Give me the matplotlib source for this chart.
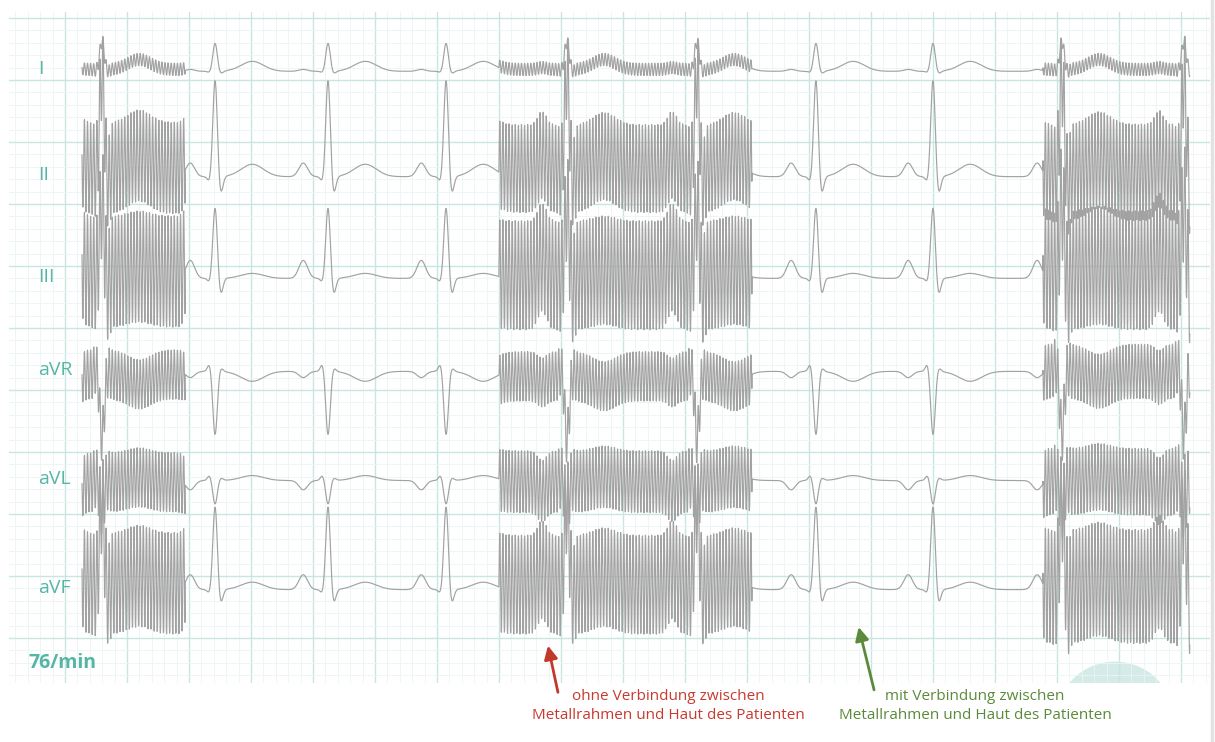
import numpy as np
import matplotlib.pyplot as plt
from matplotlib.patches import Circle
from matplotlib.lines import Line2D

plt.rcParams['font.family'] = ['Open Sans', 'DejaVu Sans']

# paper units: mm (1 small box = 1 mm)
leads = ['I', 'II', 'III', 'aVR', 'aVL', 'aVF']
lead_baseline = [45.7, 37.2, 29.0, 21.5, 12.7, 3.9]

r_times = [2.98, 12.10, 21.21, 30.73, 40.48, 50.97, 60.56, 70.0, 80.40, 90.24]
trace_span = [1.37, 90.73]

# P, Q, R, S, T
wave_offsets = [-2.0, -0.45, 0.0, 0.45, 3.0]
wave_widths = [0.35, 0.16, 0.18, 0.18, 0.9]
amp_I = [0.15, -0.1, 2.25, -0.2, 0.8]
amp_II = [1.1, -0.4, 7.8, -1.4, 1.0]
amp_III = [1.45, -0.3, 5.7, -1.3, 0.4]
amp_aVR = [-0.5, 0.6, -5.1, 0.3, -0.8]
amp_aVL = [-0.75, 0.4, -1.9, 0.2, 0.4]
amp_aVF = [1.2, -0.3, 6.7, -1.1, 0.6]
amplitudes = [amp_I, amp_II, amp_III, amp_aVR, amp_aVL, amp_aVF]

# mains hum (no contact between frame and skin)
noise_segments = [(1.37, 9.68), (35.0, 55.4), (78.87, 90.73)]
hum_period = 0.25
noise_center = [[0.15, 0.15, 0.15],
                [0.7, 0.65, 0.35],
                [0.55, 0.25, 0.65],
                [-0.25, -0.4, 0.0],
                [-0.15, -0.1, -0.1],
                [0.5, 0.4, 0.25]]
noise_half = [[0.5, 0.5, 0.5],
              [3.7, 3.55, 3.9],
              [4.5, 4.4, 4.8],
              [2.0, 2.0, 2.2],
              [2.4, 2.5, 2.7],
              [4.1, 4.0, 4.6]]

heart_rate = '76/min'
note_red = 'ohne Verbindung zwischen\nMetallrahmen und Haut des Patienten'
note_green = 'mit Verbindung zwischen\nMetallrahmen und Haut des Patienten'

teal = '#55b6a6'
trace_col = '#a2a2a2'

fig = plt.figure(figsize=(12.15, 7.42), dpi=100)
ax = fig.add_axes([9/1215, 59/742, 1201/1215, 671/742])
ax.set_xlim(-4.52, 92.34)
ax.set_ylim(-3.63, 50.48)

ax.set_xticks(np.arange(0, 95, 5))
ax.set_xticks(np.arange(-4, 93, 1), minor=True)
ax.set_yticks(np.arange(0, 51, 5))
ax.set_yticks(np.arange(-3, 51, 1), minor=True)
ax.grid(which='major', color='#c8e5e1', lw=1.0)
ax.grid(which='minor', color='#eaf5f4', lw=0.6)
ax.set_axisbelow(True)
ax.tick_params(which='both', length=0, labelbottom=False, labelleft=False)
for s in ax.spines.values():
    s.set_visible(False)

ax.add_patch(Circle((84.68, -6.69), 4.73, color='#d4ebe8', zorder=0.3, clip_on=True))

x = np.arange(trace_span[0], trace_span[1], 0.02)
for i, name in enumerate(leads):
    y = np.zeros_like(x)
    for rt in r_times:
        for a, off, w in zip(amplitudes[i], wave_offsets, wave_widths):
            y += a * np.exp(-0.5 * ((x - rt - off) / w) ** 2)
    for j, (a, b) in enumerate(noise_segments):
        m = (x >= a) & (x <= b)
        y[m] += noise_center[i][j] + noise_half[i][j] * np.sin(2 * np.pi * x[m] / hum_period)
    ax.plot(x, lead_baseline[i] + y, color=trace_col, lw=0.85, zorder=3)
    ax.text(-2.2, lead_baseline[i] + 0.15, name, color=teal, fontsize=14, va='center', ha='left')

ax.text(-2.98, -2.02, heart_rate, color=teal, fontsize=14, fontweight='bold', va='center', ha='left')

ax.annotate('', xy=(38.9, -0.4), xytext=(39.8, -4.6),
            arrowprops=dict(arrowstyle='-|>', color='#c0392b', lw=2, mutation_scale=20),
            annotation_clip=False)
ax.annotate('', xy=(63.95, 1.1), xytext=(65.3, -4.4),
            arrowprops=dict(arrowstyle='-|>', color='#5b8a3a', lw=2, mutation_scale=20),
            annotation_clip=False)
fig.text(668/1215, 1 - 706/742, note_red, color='#c8392f', fontsize=11,
         ha='center', va='center', linespacing=1.45)
fig.text(975/1215, 1 - 706/742, note_green, color='#5b8a3a', fontsize=11,
         ha='center', va='center', linespacing=1.45)

fig.add_artist(Line2D([1212/1215, 1212/1215], [0, 1], color='#e2e2e2', lw=2.5))

fig.savefig('out.png', dpi=100, facecolor='white')
